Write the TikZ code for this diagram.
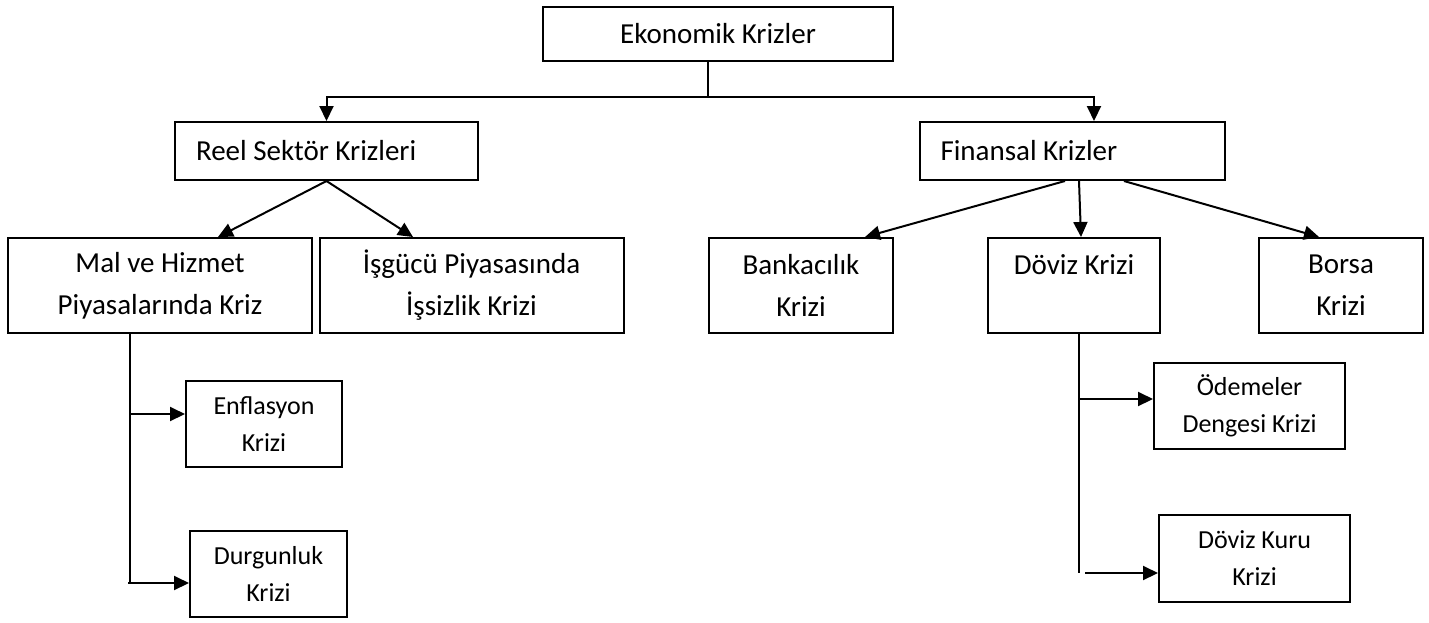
\documentclass[tikz,border=0pt]{standalone}
\usepackage{fontspec}
\setmainfont{Carlito}
\usetikzlibrary{arrows.meta}
\begin{document}
\begin{tikzpicture}[x=1pt,y=-1pt,
  box/.style={draw, line width=2pt, inner sep=0pt, align=center, font=\fontsize{29}{42}\selectfont},
  sbox/.style={draw, line width=2pt, inner sep=0pt, align=center, font=\fontsize{26}{37}\selectfont},
  lbox/.style={box, align=flush left, inner xsep=21pt},
  conn/.style={line width=2pt},
  arr/.style={conn, -{Triangle[length=15pt,width=14pt]}}]
\fill[white] (0,0) rectangle (1429,622);
\useasboundingbox (0,0) rectangle (1429,622);

% level 0
\node[box, minimum width=350pt, minimum height=54pt] (ek) at (718,34) {Ekonomik Krizler};
% level 1
\node[lbox, text width=261pt, minimum height=58pt] (reel) at (326.5,151) {Reel Sektör Krizleri};
\node[lbox, text width=263pt, minimum height=58pt] (fin) at (1072,151) {Finansal Krizler};
% level 2
\node[box, minimum width=304pt, minimum height=95pt] (mal) at (160,285.5) {Mal ve Hizmet\\Piyasalarında Kriz};
\node[box, minimum width=304pt, minimum height=95pt] (isg) at (471.5,285.5) {İşgücü Piyasasında\\İşsizlik Krizi};
\node[box, minimum width=184pt, minimum height=95pt] (bank) at (801,285.5) {Bankacılık\\Krizi};
\node[box, minimum width=172pt, minimum height=95pt] (doviz) at (1074,285.5) {Döviz Krizi\\\phantom{Kriz}};
\node[box, minimum width=164pt, minimum height=95pt] (borsa) at (1341,285.5) {Borsa\\Krizi};
% level 3
\node[sbox, minimum width=156pt, minimum height=86pt] (enf) at (264,424) {Enflasyon\\Krizi};
\node[sbox, minimum width=157pt, minimum height=86pt] (durg) at (268.5,574) {Durgunluk\\Krizi};
\node[sbox, minimum width=191pt, minimum height=86pt] (odem) at (1249.5,406) {Ödemeler\\Dengesi Krizi};
\node[sbox, minimum width=191pt, minimum height=87pt] (dkur) at (1254.5,558.5) {Döviz Kuru\\Krizi};

% connectors level 0 -> 1
\coordinate (j) at (708,97);
\draw[conn] (ek.south -| j) -- (j);
\draw[arr] (j) -| (reel.north);
\draw[arr] (j) -| ([xshift=22pt]fin.north);

% level 1 -> 2
\draw[arr] (reel.south) -- ([xshift=58pt]mal.north);
\draw[arr] (reel.south) -- ([xshift=-58.5pt]isg.north);
\draw[arr] ([xshift=-7pt]fin.south) -- ([xshift=64pt]bank.north);
\draw[arr] ([xshift=7pt]fin.south) -- ([xshift=7pt]doviz.north);
\draw[arr] ([xshift=52pt]fin.south) -- ([xshift=-22pt]borsa.north);

% left branch
\coordinate (mb) at (130,583);
\coordinate (enfin) at ([yshift=10pt]enf.west);
\coordinate (durgin) at ([yshift=-9pt]durg.west);
\draw[conn] (mal.south -| mb) -- (mb);
\draw[arr] (mb |- enfin) -- (enfin);
\draw[arr] ([xshift=-2pt]mb) -- (durgin);

% right branch
\coordinate (db) at (1079,573);
\coordinate (odin) at ([yshift=7pt]odem.west);
\coordinate (dkin) at ([yshift=-14.5pt]dkur.west);
\coordinate (dkst) at (1085,573);
\draw[conn] (doviz.south -| db) -- (db);
\draw[arr] (db |- odin) -- (odin);
\draw[arr] (dkst |- dkin) -- (dkin);
\end{tikzpicture}
\end{document}
